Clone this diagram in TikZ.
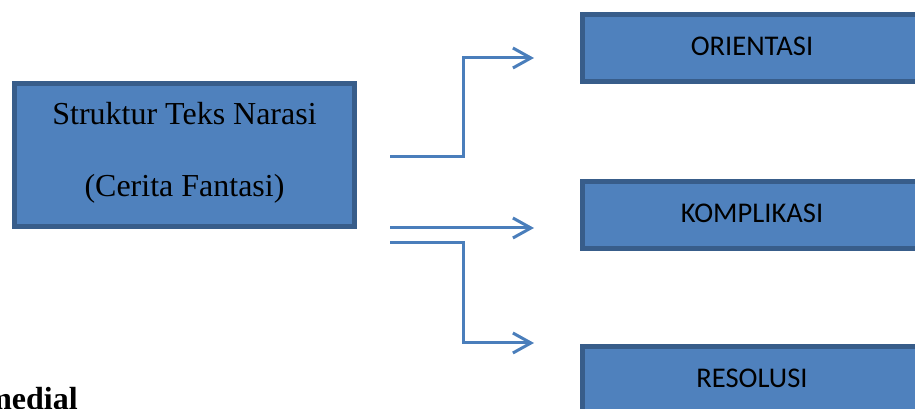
\documentclass[tikz,border=0pt]{standalone}
\usepackage{fontspec}
\setmainfont{Liberation Serif}
\newfontfamily\carlito{Carlito}
\usetikzlibrary{positioning,arrows.meta}
\definecolor{boxfill}{HTML}{4F81BD}
\definecolor{boxline}{HTML}{385D8A}
\definecolor{arrowline}{HTML}{4A7EBB}
\tikzset{
  mainbox/.style = {fill = boxfill, draw = boxline, line width = 3.75pt, shape = rectangle, minimum width = 255pt, minimum height = 107.25pt, inner sep = 0pt},
  partbox/.style = {fill = boxfill, draw = boxline, line width = 3.75pt, shape = rectangle, minimum width = 254.25pt, minimum height = 50.25pt, font = \carlito\fontsize{21.4}{25}\selectfont, text depth = 3pt},
  serif/.style = {font = \fontsize{24}{28}\selectfont, anchor = base, inner sep = 0pt},
  flow/.style = {draw = arrowline, line width = 2.25pt, -{Straight Barb[length = 13.5pt, width = 15pt]}}
}
\begin{document}
\begin{tikzpicture}[x = 0.75pt, y = -0.75pt]
\useasboundingbox (0,0) rectangle (915,409);
\clip (0,0) rectangle (915,409);
\node[mainbox] (1) at (184.5,155) {};
\node[serif] (1a) at (184.5,125) {Struktur Teks Narasi};
\node[serif] (1b) at (184.5,197) {(Cerita Fantasi)};
\node[partbox] (2) at (752,48) {ORIENTASI};
\node[partbox, below = 71.25pt of 2] (3) {KOMPLIKASI};
\node[partbox, below = 69.75pt of 3] (4) {RESOLUSI};
\coordinate (s1) at (390,157);
\coordinate (e1) at (534,58);
\coordinate (s2) at (390,228);
\coordinate (e2) at (534,228);
\coordinate (s3) at (390,243);
\coordinate (e3) at (534,343);
\draw[flow] (s1) -- ++(73,0) |- (e1);
\draw[flow] (s2) -- (e2);
\draw[flow] (s3) -- ++(73,0) |- (e3);
\node[font = \bfseries\fontsize{24}{28}\selectfont, anchor = base east, inner sep = 0pt] (5) at (78,410) {medial};
\end{tikzpicture}
\end{document}
